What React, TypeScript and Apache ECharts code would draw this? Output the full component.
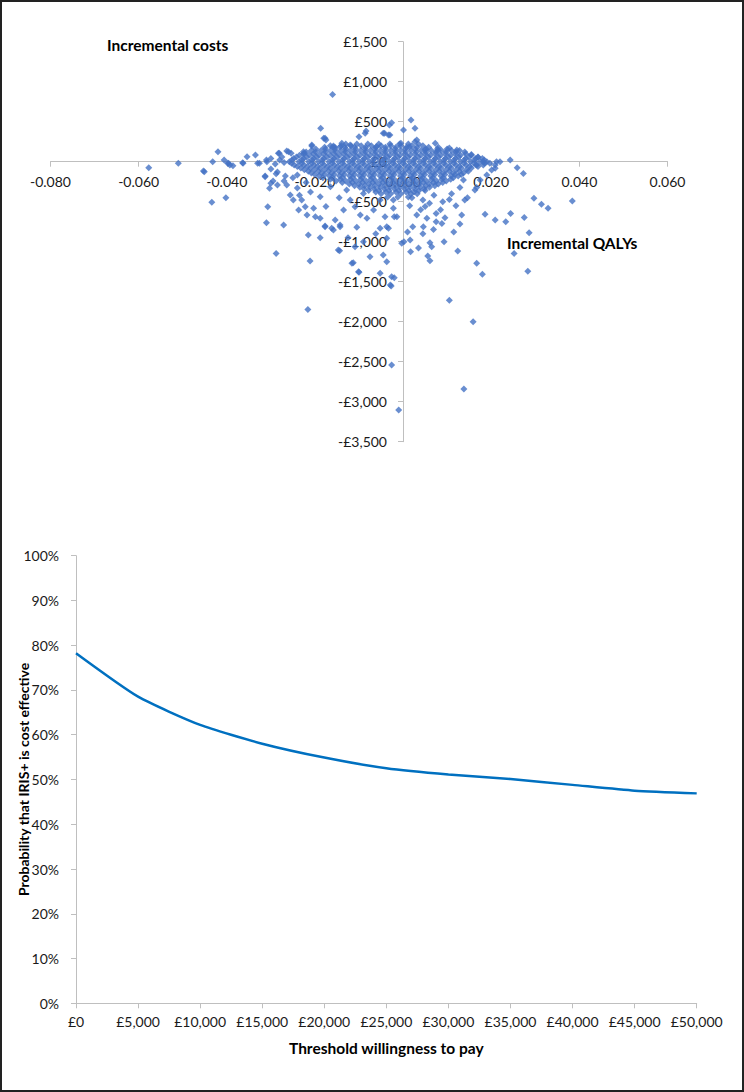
import React, { useEffect, useRef } from "react";
import * as echarts from "echarts";

// ---------- Data: cost-effectiveness plane (incremental QALYs, incremental costs £) ----------
// Dense central cloud, read row by row (cost level, QALY values)
const cloudRows: [number, number[]][] = [
  [220, [-0.013, -0.0105, -0.008, -0.0055, -0.003, -0.0008, 0.0012, 0.0035]],
  [200, [-0.0165, -0.014, -0.0118, -0.0095, -0.0072, -0.005, -0.0028, -0.0005, 0.002, 0.0045]],
  [180, [-0.0178, -0.0155, -0.0132, -0.011, -0.0085, -0.0062, -0.004, -0.0016, 0.0008, 0.0032, 0.0058, 0.008]],
  [160, [-0.0198, -0.0176, -0.0154, -0.013, -0.0108, -0.0086, -0.0064, -0.004, -0.0018, 0.0005, 0.0028, 0.0052, 0.0078, 0.01]],
  [140, [-0.0208, -0.0186, -0.0164, -0.0141, -0.0119, -0.0096, -0.0074, -0.0051, -0.0028, -0.0006, 0.0018, 0.0041, 0.0064, 0.0087, 0.011, 0.0128]],
  [120, [-0.022, -0.0198, -0.0175, -0.0152, -0.013, -0.0108, -0.0085, -0.0062, -0.004, -0.0017, 0.0006, 0.003, 0.0052, 0.0075, 0.0098, 0.012, 0.014]],
  [100, [-0.0226, -0.0203, -0.018, -0.0157, -0.0134, -0.0111, -0.0088, -0.0065, -0.0042, -0.0019, 0.0004, 0.0027, 0.005, 0.0073, 0.0096, 0.0119, 0.0142]],
  [80, [-0.0235, -0.0212, -0.019, -0.0166, -0.0144, -0.0121, -0.0098, -0.0075, -0.0052, -0.003, -0.0007, 0.0016, 0.004, 0.0062, 0.0085, 0.0108, 0.013, 0.0155]],
  [60, [-0.0242, -0.0219, -0.0196, -0.0173, -0.015, -0.0127, -0.0104, -0.0081, -0.0058, -0.0035, -0.0012, 0.0011, 0.0034, 0.0057, 0.008, 0.0103, 0.0126, 0.0149, 0.017]],
  [40, [-0.0248, -0.0226, -0.0203, -0.018, -0.0157, -0.0134, -0.0111, -0.0088, -0.0065, -0.0042, -0.0019, 0.0004, 0.0027, 0.005, 0.0073, 0.0096, 0.0119, 0.0142, 0.0165, 0.018]],
  [20, [-0.0252, -0.0229, -0.0206, -0.0183, -0.016, -0.0137, -0.0114, -0.0091, -0.0068, -0.0045, -0.0022, 0.0001, 0.0024, 0.0047, 0.007, 0.0093, 0.0116, 0.0139, 0.0162, 0.0184]],
  [0, [-0.0258, -0.0236, -0.0214, -0.0192, -0.0168, -0.0146, -0.0122, -0.01, -0.0077, -0.0054, -0.0031, -0.0008, 0.0015, 0.0038, 0.0061, 0.0084, 0.0107, 0.013, 0.0153, 0.0175, 0.019]],
  [-20, [-0.0253, -0.023, -0.0207, -0.0184, -0.0161, -0.0138, -0.0115, -0.0092, -0.0069, -0.0046, -0.0023, 0.0, 0.0023, 0.0046, 0.0069, 0.0092, 0.0115, 0.0138, 0.0161, 0.0185]],
  [-40, [-0.0247, -0.0225, -0.0202, -0.0179, -0.0156, -0.0133, -0.011, -0.0087, -0.0064, -0.0041, -0.0018, 0.0005, 0.0028, 0.0051, 0.0074, 0.0097, 0.012, 0.0143, 0.0166, 0.0182]],
  [-60, [-0.024, -0.0217, -0.0194, -0.0171, -0.0148, -0.0125, -0.0102, -0.0079, -0.0056, -0.0033, -0.001, 0.0013, 0.0036, 0.0059, 0.0082, 0.0105, 0.0128, 0.0151, 0.017]],
  [-80, [-0.0232, -0.021, -0.0188, -0.0165, -0.0142, -0.012, -0.0097, -0.0074, -0.0051, -0.0028, -0.0006, 0.0017, 0.004, 0.0063, 0.0086, 0.0109, 0.0132, 0.0155]],
  [-100, [-0.0224, -0.0201, -0.0178, -0.0155, -0.0132, -0.0109, -0.0086, -0.0063, -0.004, -0.0017, 0.0006, 0.0029, 0.0052, 0.0075, 0.0098, 0.0121, 0.0144]],
  [-120, [-0.0215, -0.0192, -0.0169, -0.0146, -0.0123, -0.01, -0.0078, -0.0055, -0.0032, -0.001, 0.0013, 0.0036, 0.0059, 0.0082, 0.0105, 0.0128, 0.0148]],
  [-140, [-0.0208, -0.0185, -0.0162, -0.0139, -0.0116, -0.0093, -0.007, -0.0047, -0.0024, -0.0001, 0.0022, 0.0045, 0.0068, 0.0091, 0.0114, 0.0137]],
  [-160, [-0.02, -0.0178, -0.0156, -0.0133, -0.011, -0.0088, -0.0065, -0.0042, -0.002, 0.0003, 0.0026, 0.0049, 0.0072, 0.0095, 0.0118, 0.0132]],
  [-180, [-0.019, -0.0167, -0.0144, -0.0121, -0.0098, -0.0075, -0.0052, -0.0029, -0.0006, 0.0017, 0.004, 0.0063, 0.0086, 0.0109, 0.0125]],
  [-200, [-0.0182, -0.016, -0.0137, -0.0114, -0.0092, -0.0069, -0.0046, -0.0024, -0.0001, 0.0022, 0.0045, 0.0068, 0.0091, 0.0114]],
  [-220, [-0.0165, -0.0142, -0.0119, -0.0096, -0.0073, -0.005, -0.0027, -0.0004, 0.0019, 0.0042, 0.0065, 0.0088, 0.0108]],
  [-240, [-0.0152, -0.013, -0.0107, -0.0084, -0.0062, -0.0039, -0.0016, 0.0007, 0.003, 0.0053, 0.0076, 0.0098]],
  [-260, [-0.0138, -0.0115, -0.0092, -0.0069, -0.0046, -0.0023, 0.0, 0.0023, 0.0046, 0.0069, 0.009]],
  [-280, [-0.0122, -0.01, -0.0077, -0.0054, -0.0032, -0.0009, 0.0014, 0.0037, 0.006, 0.008]],
  [-300, [-0.011, -0.0087, -0.0064, -0.0041, -0.0018, 0.0005, 0.0028, 0.0051, 0.0072]],
  [-320, [-0.0098, -0.0075, -0.0052, -0.003, -0.0007, 0.0016, 0.0039, 0.006]],
  [-340, [-0.0088, -0.0065, -0.0042, -0.0019, 0.0004, 0.0027, 0.0048]],
  [-360, [-0.0078, -0.0055, -0.0032, -0.001, 0.0013, 0.0036, 0.005]],
  [-380, [-0.0062, -0.0039, -0.0016, 0.0007, 0.0025]],
  [-400, [-0.005, -0.0028, -0.0005, 0.0018, 0.0032]],
  [-440, [-0.0035, -0.0012, 0.0012]],
];

// Scattered points outside the cloud [incremental QALYs, incremental costs]
const scatterPoints: [number, number][] = [
  [-0.016, 840], [-0.0577, -75], [-0.051, -20], [-0.0451, -125], [-0.042, 125], [-0.0432, 0],
  [-0.0406, 20], [-0.0396, -20], [-0.0386, -50], [-0.0363, -20], [-0.0354, 62], [-0.0335, 84],
  [-0.0326, -20], [-0.0313, -180], [-0.0288, -150], [-0.0281, 105], [-0.0267, -180], [-0.0264, 134],
  [-0.0254, 105], [-0.024, -166], [-0.0224, 105], [-0.0207, 196], [-0.0187, 417], [-0.0177, 292],
  [-0.0175, 271], [-0.0159, 180], [-0.0143, 188], [-0.01, 312], [-0.0084, 384], [-0.006, 188],
  [-0.0045, 355], [-0.0031, 459], [-0.003, 334], [-0.0005, 230], [0.0001, 396], [0.0018, 521],
  [0.0027, 417], [0.0014, 188], [-0.0026, 488], [-0.0086, 355], [-0.0042, 355], [-0.0033, 334],
  [-0.018, 292], [-0.0158, 196], [-0.0139, 230], [-0.012, 209], [0.0031, 271], [-0.0207, 209],
  [-0.0226, 125], [-0.026, 125], [-0.0283, 105], [-0.0309, 0], [0.0027, 250], [0.0073, 230],
  [0.0122, 146], [0.0243, 21], [0.022, 0], [0.0209, -41], [0.0259, -75], [0.0273, -146],
  [-0.0453, -116], [-0.0398, -20], [-0.0393, -40], [-0.0364, -12], [-0.033, -20],
  [-0.031, 20], [-0.029, -30], [-0.028, 20], [-0.027, -10], [-0.03, 40], [-0.0275, 60],
  [-0.03, -90], [-0.0285, -130], [-0.027, -240], [-0.025, -200], [-0.024, -330], [-0.022, -260],
  [-0.021, -380], [-0.0235, -420],
  [0.0167, -41], [0.0182, 0], [0.0197, -20], [0.0212, 0], [0.0209, -83], [0.019, -166],
  [0.0201, -104], [0.0175, -229], [0.0167, -321], [0.0137, -229], [0.0155, 90], [0.017, 55],
  [0.005, 150], [0.008, 140], [0.0105, 170],
  // lower left
  [-0.0434, -508], [-0.0402, -450], [-0.0313, -188], [-0.0303, -333], [-0.0307, -563], [-0.031, -763],
  [-0.0288, -1146], [-0.0271, -792], [-0.03, -270], [-0.0295, -240], [-0.0285, -290], [-0.0264, -292],
  [-0.0256, -417], [-0.0249, -479], [-0.0237, -604], [-0.0215, -917], [-0.0211, -1241], [-0.0188, -950],
  [-0.0177, -804], [-0.0158, -854], [-0.0143, -792], [-0.0147, -1104], [-0.0116, -1270], [-0.0109, -1063],
  [-0.0101, -1375], [-0.0075, -1188], [-0.0052, -1395], [-0.0037, -1250], [-0.0026, -1438], [-0.0029, -1541],
  [-0.009, -1000], [-0.0052, -833], [-0.0033, -833], [-0.0014, -688], [-0.0003, -1020], [0.0016, -979],
  [-0.0216, -1846], [-0.0144, -1112], [-0.0113, -1262], [-0.01, -1383], [-0.0045, -1166], [-0.002, -1450],
  [-0.0027, -1554], [-0.0026, -2541], [-0.001, -3104],
  [-0.023, -479], [-0.0222, -563], [-0.0218, -667], [-0.0203, -583], [-0.0199, -688], [-0.0188, -708],
  [-0.0177, -813], [-0.0162, -833], [-0.0154, -729], [-0.0143, -813], [-0.0135, -604], [-0.012, -479],
  [-0.0109, -563], [-0.0097, -667], [-0.0082, -708], [-0.0067, -604], [-0.0052, -479], [-0.0041, -688],
  [-0.0022, -479], [-0.009, -396], [-0.0128, -354], [-0.0165, -313], [-0.0188, -438],
  [-0.0145, -450], [-0.0175, -560], [-0.0105, -820], [-0.0062, -900], [-0.0125, -950],
  // lower right
  [0.0017, -1125], [0.0056, -1179], [0.0061, -1237], [0.0124, -1116], [0.0167, -1270], [0.018, -1408],
  [0.0105, -1733], [0.0159, -2000], [0.0138, -2841], [0.0252, -1146], [0.0283, -1370],
  [0.0297, -458], [0.0314, -533], [0.0329, -583], [0.0384, -491], [0.0186, -658], [0.0209, -729],
  [0.0233, -750], [0.0244, -646], [0.0275, -696], [0.0286, -888], [0.0093, -1000], [0.0061, -1012],
  [0.0065, -1062], [0.0002, -1000], [0.0022, -813], [0.0046, -813], [0.0069, -846], [0.0088, -771],
  [0.0133, -667], [0.0129, -779], [0.0105, -471], [0.0129, -321], [0.014, -479], [0.0146, -450],
  [0.0163, -354], [0.005, -560], [0.004, -600], [0.0075, -646], [0.0054, -708], [0.0031, -667],
  [-0.002, -688], [-0.0022, -583], [-0.0037, -813], [-0.0037, -958],
  [0.002, -450], [0.0045, -480], [0.007, -420], [0.009, -500], [0.011, -400], [0.012, -550],
  [0.0085, -600], [0.006, -520], [0.0015, -550], [0.0095, -700], [0.0075, -750], [0.0045, -900],
  [0.001, -880], [0.0115, -880], [0.0035, -1080],
];

// ---------- Data: cost-effectiveness acceptability curve ----------
const wtpThresholds = [0, 5000, 10000, 15000, 20000, 25000, 30000, 35000, 40000, 45000, 50000];
const probCostEffective = [78.2, 68.5, 62.2, 58.0, 54.9, 52.5, 51.1, 50.1, 48.8, 47.5, 46.9];

const FONT = "Lato, 'Open Sans', sans-serif";
const TEXT = "#1a1a1a";
const AXIS = "#BFBFBF";

function withCommas(n: number): string {
  const s = String(Math.round(Math.abs(n)));
  return s.replace(/\B(?=(\d{3})+(?!\d))/g, ",");
}
function pounds(v: number): string {
  return (v < 0 ? "-" : "") + "£" + withCommas(v);
}

export default function App() {
  const ref = useRef<HTMLDivElement>(null);
  useEffect(() => {
    document.body.style.margin = "0";
    if (!ref.current) return;
    const chart = echarts.init(ref.current, undefined, { renderer: "svg" });

    const cloud: [number, number][] = [];
    cloudRows.forEach(([y, xs]) => xs.forEach((x) => cloud.push([x, y])));
    const planeData = cloud.concat(scatterPoints);
    const ceacData = wtpThresholds.map((w, i) => [w, probCostEffective[i]]);

    const axisLabel = { color: TEXT, fontFamily: FONT, fontSize: 14 };

    chart.setOption({
      animation: false,
      backgroundColor: "#fff",
      grid: [
        { left: 50.5, right: 76.5, top: 41.7, bottom: 650.3, containLabel: false, outerBoundsMode: "none" },
        { left: 76, right: 47.3, top: 555.7, bottom: 88.7, containLabel: false, outerBoundsMode: "none" },
      ],
      xAxis: [
        {
          gridIndex: 0,
          type: "value",
          position: "bottom",
          offset: -280,
          min: -0.08,
          max: 0.06,
          interval: 0.02,
          splitLine: { show: false },
          axisLine: { onZero: false, lineStyle: { color: AXIS, width: 1 } },
          axisTick: { show: true, length: 5, lineStyle: { color: AXIS } },
          axisLabel: { ...axisLabel, margin: 13, formatter: (v: number) => v.toFixed(3) },
        },
        {
          gridIndex: 1,
          type: "value",
          min: 0,
          max: 50000,
          interval: 5000,
          splitLine: { show: false },
          axisLine: { onZero: false, lineStyle: { color: AXIS, width: 1 } },
          axisTick: { show: true, length: 5, lineStyle: { color: AXIS } },
          axisLabel: { ...axisLabel, margin: 11, formatter: (v: number) => pounds(v) },
        },
      ],
      yAxis: [
        {
          gridIndex: 0,
          type: "value",
          position: "left",
          offset: -352.5,
          min: -3500,
          max: 1500,
          interval: 500,
          splitLine: { show: false },
          axisLine: { show: true, onZero: false, lineStyle: { color: AXIS, width: 1 } },
          axisTick: { show: true, length: 5, lineStyle: { color: AXIS } },
          axisLabel: { ...axisLabel, margin: 16, formatter: (v: number) => pounds(v) },
        },
        {
          gridIndex: 1,
          type: "value",
          min: 0,
          max: 100,
          interval: 10,
          splitLine: { show: false },
          axisLine: { show: true, onZero: false, lineStyle: { color: AXIS, width: 1 } },
          axisTick: { show: true, length: 5, lineStyle: { color: AXIS } },
          axisLabel: { ...axisLabel, margin: 17, formatter: (v: number) => v + "%" },
        },
      ],
      series: [
        {
          type: "scatter",
          xAxisIndex: 0,
          yAxisIndex: 0,
          symbol: "diamond",
          symbolSize: 7,
          itemStyle: { color: "#4472C4" },
          data: planeData,
          z: 3,
        },
        {
          type: "line",
          xAxisIndex: 1,
          yAxisIndex: 1,
          data: ceacData,
          showSymbol: false,
          symbol: "none",
          smooth: 0.2,
          lineStyle: { color: "#0070C0", width: 2.5 },
        },
      ],
      graphic: [
        {
          type: "rect",
          shape: { x: 1, y: 1, width: 742, height: 1090 },
          style: { fill: "none", stroke: "#222", lineWidth: 2 },
          silent: true,
          z: 100,
        },
        {
          type: "text",
          x: 107,
          y: 45,
          style: { text: "Incremental costs", fill: "#000", font: `bold 15.5px ${FONT}`, textVerticalAlign: "middle" },
        },
        {
          type: "text",
          x: 507,
          y: 242.7,
          style: { text: "Incremental QALYs", fill: "#000", font: `bold 15.5px ${FONT}`, textVerticalAlign: "middle" },
        },
        {
          type: "text",
          x: 386.3,
          y: 1048.3,
          style: {
            text: "Threshold willingness to pay",
            fill: "#000",
            font: `bold 15.5px ${FONT}`,
            textAlign: "center",
            textVerticalAlign: "middle",
          },
        },
        {
          type: "text",
          x: 23,
          y: 779.5,
          rotation: Math.PI / 2,
          style: {
            text: "Probability that IRIS+ is cost effective",
            fill: "#000",
            font: `bold 14px ${FONT}`,
            textAlign: "center",
            textVerticalAlign: "middle",
          },
        },
      ],
    });
    return () => chart.dispose();
  }, []);
  return <div ref={ref} style={{ width: 744, height: 1092 }} />;
}
